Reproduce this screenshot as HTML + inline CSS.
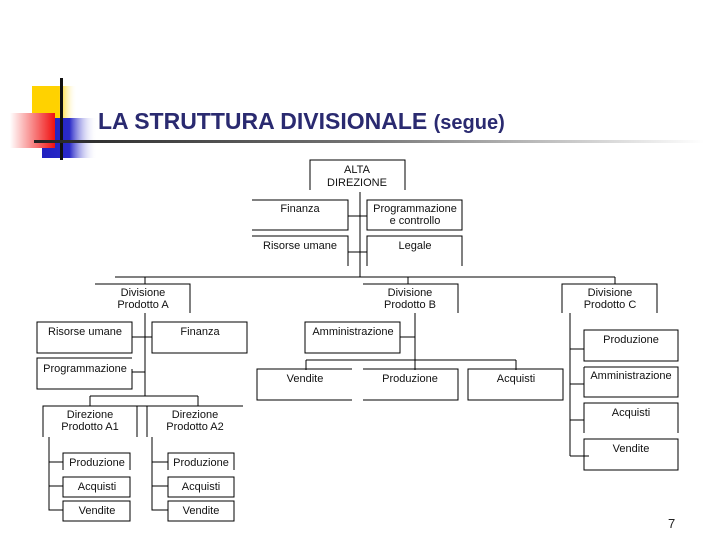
<!DOCTYPE html>
<html><head><meta charset="utf-8"><style>
body{margin:0;width:720px;height:540px;background:#fff;overflow:hidden;font-family:"Liberation Sans",sans-serif}
</style></head><body>
<svg width="720" height="540" xmlns="http://www.w3.org/2000/svg" style="position:absolute;left:0;top:0">
<defs>
<linearGradient id="y" x1="0" x2="1"><stop offset="0" stop-color="#ffd200"/><stop offset="0.6" stop-color="#ffd200"/><stop offset="1" stop-color="#fff" stop-opacity="0"/></linearGradient>
<linearGradient id="r" x1="0" x2="1"><stop offset="0" stop-color="#fff"/><stop offset="1" stop-color="#f01010"/></linearGradient>
<linearGradient id="b" x1="0" x2="1"><stop offset="0" stop-color="#2020c0"/><stop offset="0.5" stop-color="#2a2ac8"/><stop offset="1" stop-color="#fff" stop-opacity="0"/></linearGradient>
<linearGradient id="l" x1="0" x2="1"><stop offset="0" stop-color="#222"/><stop offset="0.5" stop-color="#777"/><stop offset="1" stop-color="#fff"/></linearGradient>
</defs>
<rect x="32" y="86" width="45" height="32" fill="url(#y)"/>
<rect x="42" y="118" width="55" height="40" fill="url(#b)"/>
<rect x="10" y="113" width="45" height="35" fill="url(#r)"/>
<rect x="60" y="78" width="3" height="82" fill="#111"/>
<rect x="34" y="140" width="670" height="3" fill="url(#l)"/>
<text x="98" y="129" font-size="23" font-weight="bold" fill="#2a2a70">LA STRUTTURA DIVISIONALE <tspan font-size="20">(segue)</tspan></text>
<g stroke="#000" stroke-width="1" fill="none">
<path d="M310 190V160H405V190"/>
<path d="M360 192V277"/>
<path d="M252 200H348V230H252"/>
<rect x="367" y="200" width="95" height="30"/>
<path d="M348 216H367M348 252H367"/>
<path d="M252 236H348V266"/>
<path d="M367 266V236H462V266"/>
<path d="M115 277H615"/>
<path d="M145 277V284M408 277V284M615 277V284"/>
<path d="M95 284H190V313"/>
<path d="M363 284H458V313"/>
<path d="M562 313V284H657V313"/>
<path d="M145 313V378"/>
<rect x="37" y="322" width="95" height="31"/>
<rect x="152" y="322" width="95" height="31"/>
<path d="M132 337H152"/>
<path d="M132 358H37V389H132V369"/>
<path d="M132 372H145"/>
<path d="M90 396H198M145 378V396M90 396V406M198 396V406"/>
<path d="M43 437V406H243M137 406V437M147 406V437"/>
<path d="M49 437V510H63M49 462H63M49 486H63"/>
<path d="M152 437V510H168M152 462H168M152 486H168"/>
<path d="M63 470V453H130V470"/>
<rect x="63" y="477" width="67" height="20"/>
<rect x="63" y="501" width="67" height="20"/>
<path d="M168 470V453H234V470"/>
<rect x="168" y="477" width="66" height="20"/>
<rect x="168" y="501" width="66" height="20"/>
<path d="M415 313V370"/>
<rect x="305" y="322" width="95" height="31"/>
<path d="M400 337H415"/>
<path d="M306 360H516M306 360V370M516 360V370"/>
<path d="M352 369H257V400H352"/>
<path d="M363 369H458V400H363"/>
<rect x="468" y="369" width="95" height="31"/>
<path d="M570 313V456"/>
<rect x="584" y="330" width="94" height="31"/>
<path d="M584 367H678V397H584V367"/>
<path d="M584 433V403H678V433"/>
<rect x="584" y="439" width="94" height="31"/>
<path d="M570 349H584M570 384H584M570 420H584M570 456H589"/>
</g>
<g font-size="11" fill="#111" text-anchor="middle">
<text x="357" y="173">ALTA</text><text x="357" y="186">DIREZIONE</text>
<text x="300" y="212">Finanza</text>
<text x="415" y="212">Programmazione</text><text x="415" y="224">e controllo</text>
<text x="300" y="249">Risorse umane</text>
<text x="415" y="249">Legale</text>
<text x="143" y="296">Divisione</text><text x="143" y="308">Prodotto A</text>
<text x="410" y="296">Divisione</text><text x="410" y="308">Prodotto B</text>
<text x="610" y="296">Divisione</text><text x="610" y="308">Prodotto C</text>
<text x="85" y="335">Risorse umane</text>
<text x="200" y="335">Finanza</text>
<text x="85" y="372">Programmazione</text>
<text x="353" y="335">Amministrazione</text>
<text x="305" y="382">Vendite</text>
<text x="410" y="382">Produzione</text>
<text x="516" y="382">Acquisti</text>
<text x="631" y="343">Produzione</text>
<text x="631" y="379">Amministrazione</text>
<text x="631" y="416">Acquisti</text>
<text x="631" y="452">Vendite</text>
<text x="90" y="418">Direzione</text><text x="90" y="430">Prodotto A1</text>
<text x="195" y="418">Direzione</text><text x="195" y="430">Prodotto A2</text>
<text x="97" y="466">Produzione</text><text x="97" y="490">Acquisti</text><text x="97" y="514">Vendite</text>
<text x="201" y="466">Produzione</text><text x="201" y="490">Acquisti</text><text x="201" y="514">Vendite</text>
</g>
<text x="668" y="528" font-size="13" fill="#222">7</text>
</svg>
</body></html>
